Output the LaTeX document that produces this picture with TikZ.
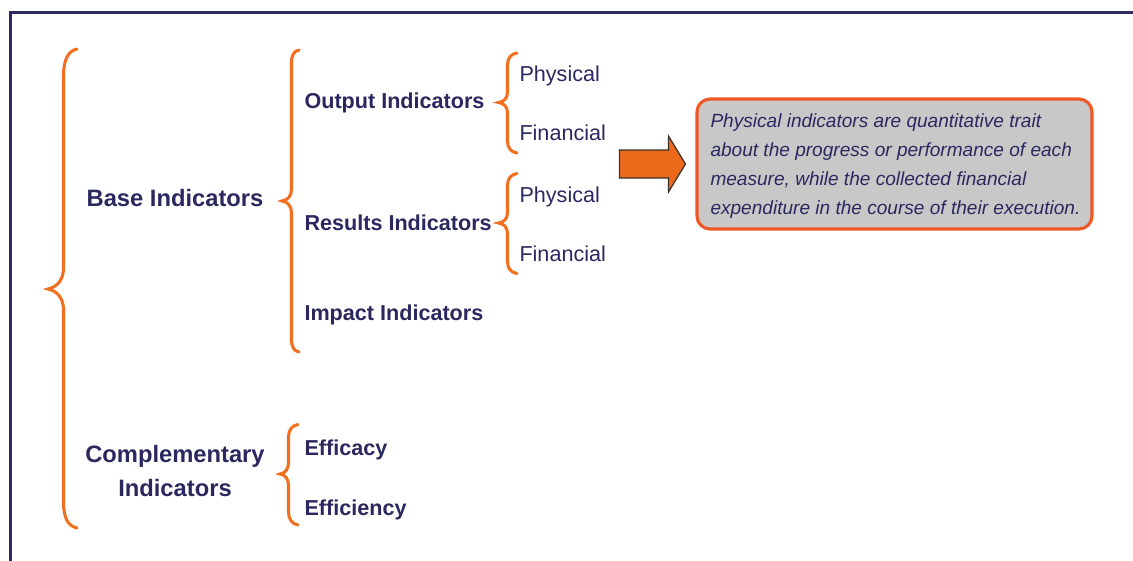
\documentclass[tikz,border=0pt]{standalone}
\usepackage{fontspec}
\setmainfont{Liberation Sans}

\tikzset{every picture/.style={line width=0.75pt}}
\tikzset{
  bracestyle/.style={draw={rgb, 255:red, 240; green, 112; blue, 32 }, line width=2.3pt, line cap=round},
  maintxt/.style={text={rgb, 255:red, 43; green, 40; blue, 96 }, font=\fontsize{17.8}{25.5}\selectfont\bfseries, inner sep=0pt, align=center},
  subtxt/.style={text={rgb, 255:red, 43; green, 40; blue, 96 }, font=\fontsize{16.2}{19}\selectfont\bfseries, inner sep=0pt, anchor=base west},
  leaftxt/.style={text={rgb, 255:red, 43; green, 40; blue, 96 }, font=\fontsize{16.2}{19}\selectfont, inner sep=0pt, anchor=base west},
  notebox/.style={draw={rgb, 255:red, 236; green, 88; blue, 38 }, fill={rgb, 255:red, 200; green, 200; blue, 200 }, line width=2.3pt, rounded corners=9.75pt, minimum width=296.25pt, minimum height=97.5pt},
  notetxt/.style={text={rgb, 255:red, 43; green, 40; blue, 96 }, font=\fontsize{14.3}{21.7}\selectfont\itshape, inner sep=0pt, align=left, anchor=west}
}

\begin{document}
\begin{tikzpicture}[x=0.75pt,y=0.75pt,yscale=-1,xscale=1]
\useasboundingbox (0,0) rectangle (1133,561);
\clip (0,0) rectangle (1133,561);

%Shape: Frame
\draw [color={rgb, 255:red, 45; green, 42; blue, 100 }, line width=2.25pt] (10,575) -- (10,12.5) -- (1145,12.5) ;

%Shape: Brace [all indicators]
\draw [bracestyle] (77,49) .. controls (68,51) and (63.5,60) .. (63.5,76) -- (63.5,268) .. controls (63.5,280) and (57,287) .. (48,289) .. controls (57,291) and (63.5,298) .. (63.5,310) -- (63.5,502) .. controls (63.5,518) and (68,526) .. (77,528) ;
%Shape: Brace [base]
\draw [bracestyle] (299,50) .. controls (294,51) and (291.5,55) .. (291.5,63) -- (291.5,189) .. controls (291.5,196) and (288,200) .. (282,201) .. controls (288,202) and (291.5,206) .. (291.5,213) -- (291.5,339) .. controls (291.5,347) and (294,351) .. (299,352) ;
%Shape: Brace [output]
\draw [bracestyle] (517,53) .. controls (511,54) and (507.5,58) .. (507.5,65) -- (507.5,92) .. controls (507.5,98) and (504,102) .. (498.5,102.5) .. controls (504,103) and (507.5,107) .. (507.5,113) -- (507.5,141) .. controls (507.5,148) and (511,152) .. (517,153) ;
%Shape: Brace [results]
\draw [bracestyle] (517,173.5) .. controls (511,174.5) and (507.5,178.5) .. (507.5,185.5) -- (507.5,212.5) .. controls (507.5,218.5) and (504,222.5) .. (498.5,223) .. controls (504,223.5) and (507.5,227.5) .. (507.5,233.5) -- (507.5,261.5) .. controls (507.5,268.5) and (511,272.5) .. (517,273.5) ;
%Shape: Brace [complementary]
\draw [bracestyle] (298,424.5) .. controls (292,425.5) and (288.5,430) .. (288.5,437) -- (288.5,463) .. controls (288.5,469) and (285,473.5) .. (280,474) .. controls (285,474.5) and (288.5,479) .. (288.5,485) -- (288.5,512) .. controls (288.5,519) and (292,524) .. (298,525) ;

%Shape: Right Arrow
\draw [color={rgb, 255:red, 60; green, 50; blue, 45 }, fill={rgb, 255:red, 236; green, 104; blue, 26 }, line width=0.9pt] (619.5,150) -- (668.5,150) -- (668.5,136) -- (685.5,164) -- (668.5,192) -- (668.5,178) -- (619.5,178) -- cycle ;

%Rounded Rect
\node [notebox] (note) at (894.5,164) {};

% Text Node
\node [maintxt, anchor=base] (base) at (175,206) {Base Indicators};
% Text Node
\node [maintxt] (compl) at (175,471.5) {Complementary\\Indicators};
% Text Node
\node [subtxt] (output) at (304,108.3) {Output Indicators};
% Text Node
\node [subtxt] (results) at (304,230) {Results Indicators};
% Text Node
\node [subtxt] (impact) at (304,320) {Impact Indicators};
% Text Node
\node [leaftxt] (outphys) at (519,81.7) {Physical};
% Text Node
\node [leaftxt] (outfin) at (519,140) {Financial};
% Text Node
\node [leaftxt] (resphys) at (519,202.7) {Physical};
% Text Node
\node [leaftxt] (resfin) at (519,261.7) {Financial};
% Text Node
\node [subtxt] (efficacy) at (304,455) {Efficacy};
% Text Node
\node [subtxt] (efficiency) at (304,515) {Efficiency};
% Text Node
\node [notetxt] (notetext) at (710,166) {Physical indicators are quantitative trait\\about the progress or performance of each\\measure, while the collected financial\\expenditure in the course of their execution.};

\end{tikzpicture}
\end{document}
